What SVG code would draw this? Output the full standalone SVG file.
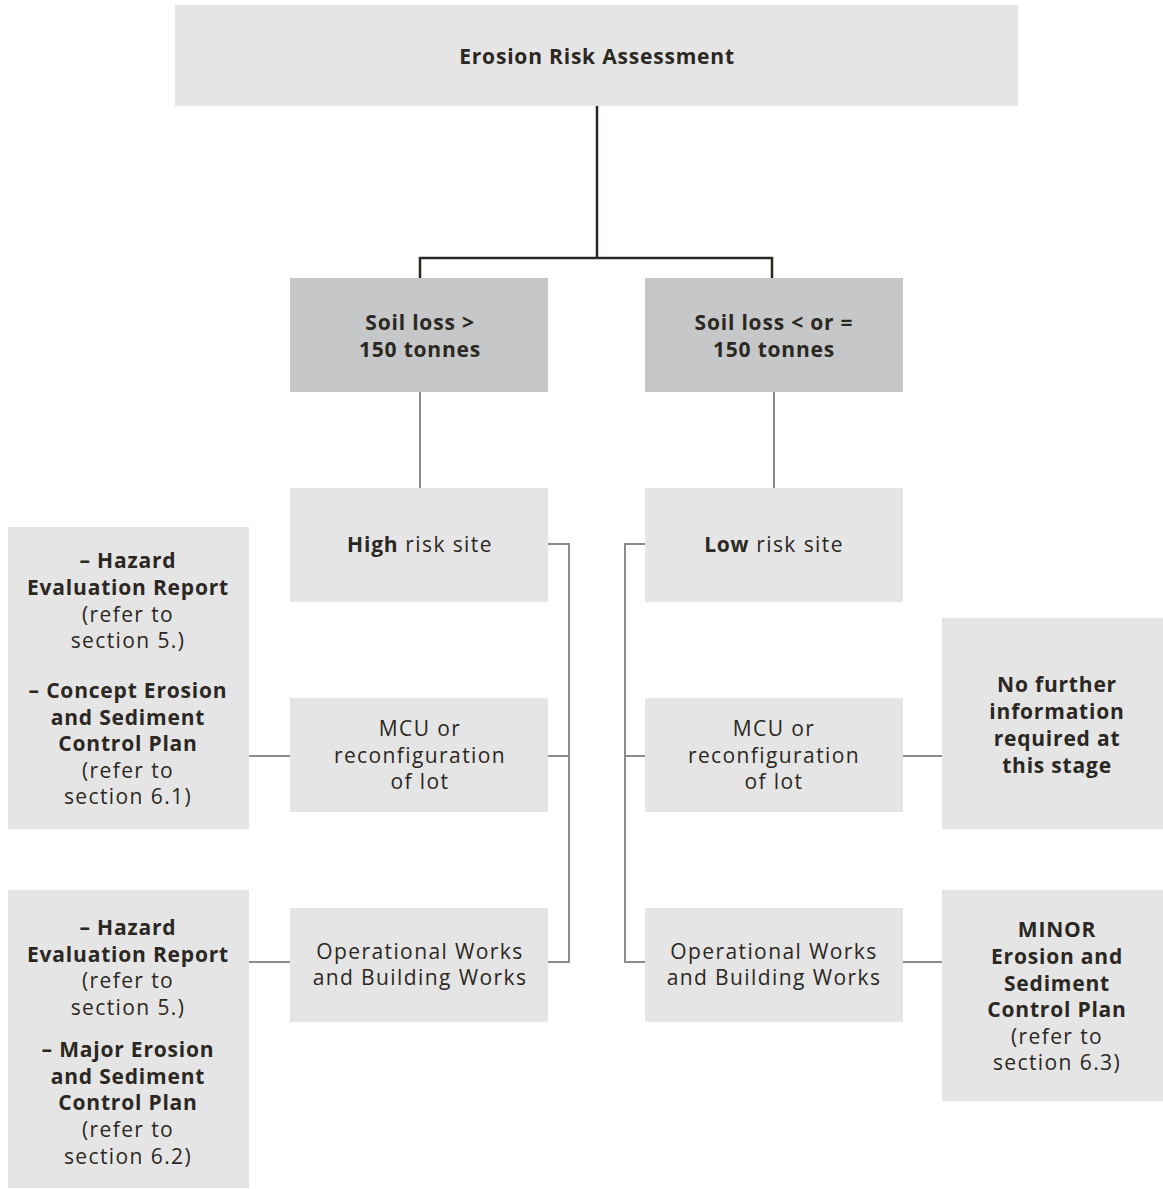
<svg xmlns="http://www.w3.org/2000/svg" width="1163" height="1189" viewBox="0 0 1163 1189">
<style>
.lt{fill:#e5e5e5}
.dk{fill:#c6c7c8}
text{font-family:"Open Sans","Noto Sans","Liberation Sans",sans-serif;font-size:21px;fill:#2b2722;text-anchor:middle;letter-spacing:1.4px}
.b{font-weight:bold;letter-spacing:0.8px}
.main{fill:none;stroke:#2b2722;stroke-width:2.5}
.sub{fill:none;stroke:#8c8c8c;stroke-width:2}
</style>
<rect width="1163" height="1189" fill="#ffffff"/>
<g id="connectors">
<path class="main" d="M597,106 V258 M420,280 V258 H772 V280"/>
<path class="sub" d="M420,392 V488 M774,392 V488"/>
<path class="sub" d="M548,544 H569 V962 H548 M548,756 H569"/>
<path class="sub" d="M645,544 H625 V962 H645 M625,756 H645"/>
<path class="sub" d="M249,756 H290 M249,962 H290 M903,756 H942 M903,962 H942"/>
</g>
<g id="n-top"><rect class="lt" x="175" y="5" width="843" height="101"/><text class="b" x="597" y="64">Erosion Risk Assessment</text></g>
<g id="n-soil-high"><rect class="dk" x="290" y="278" width="258" height="114"/><text class="b" x="420" y="330">Soil loss &gt;</text><text class="b" x="420" y="357">150 tonnes</text></g>
<g id="n-soil-low"><rect class="dk" x="645" y="278" width="258" height="114"/><text class="b" x="774" y="330">Soil loss &lt; or =</text><text class="b" x="774" y="357">150 tonnes</text></g>
<g id="n-high"><rect class="lt" x="290" y="488" width="258" height="114"/><text x="420" y="552"><tspan class="b">High</tspan> risk site</text></g>
<g id="n-low"><rect class="lt" x="645" y="488" width="258" height="114"/><text x="774" y="552"><tspan class="b">Low</tspan> risk site</text></g>
<g id="n-mcu-high"><rect class="lt" x="290" y="698" width="258" height="114"/><text x="420" y="736">MCU or</text><text x="420" y="763">reconfiguration</text><text x="420" y="789">of lot</text></g>
<g id="n-mcu-low"><rect class="lt" x="645" y="698" width="258" height="114"/><text x="774" y="736">MCU or</text><text x="774" y="763">reconfiguration</text><text x="774" y="789">of lot</text></g>
<g id="n-ow-high"><rect class="lt" x="290" y="908" width="258" height="114"/><text x="420" y="959">Operational Works</text><text x="420" y="985">and Building Works</text></g>
<g id="n-ow-low"><rect class="lt" x="645" y="908" width="258" height="114"/><text x="774" y="959">Operational Works</text><text x="774" y="985">and Building Works</text></g>
<g id="n-out-mcu-high"><rect class="lt" x="8" y="527" width="241" height="302"/>
<text class="b" x="128" y="568">– Hazard</text><text class="b" x="128" y="595">Evaluation Report</text><text x="128" y="622">(refer to</text><text x="128" y="648">section 5.)</text>
<text class="b" x="128" y="698">– Concept Erosion</text><text class="b" x="128" y="725">and Sediment</text><text class="b" x="128" y="751">Control Plan</text><text x="128" y="778">(refer to</text><text x="128" y="804">section 6.1)</text></g>
<g id="n-out-ow-high"><rect class="lt" x="8" y="890" width="241" height="298"/>
<text class="b" x="128" y="935">– Hazard</text><text class="b" x="128" y="962">Evaluation Report</text><text x="128" y="988">(refer to</text><text x="128" y="1015">section 5.)</text>
<text class="b" x="128" y="1057">– Major Erosion</text><text class="b" x="128" y="1084">and Sediment</text><text class="b" x="128" y="1110">Control Plan</text><text x="128" y="1137">(refer to</text><text x="128" y="1164">section 6.2)</text></g>
<g id="n-out-mcu-low"><rect class="lt" x="942" y="618" width="221" height="211"/>
<text class="b" x="1057" y="692">No further</text><text class="b" x="1057" y="719">information</text><text class="b" x="1057" y="746">required at</text><text class="b" x="1057" y="773">this stage</text></g>
<g id="n-out-ow-low"><rect class="lt" x="942" y="890" width="221" height="211"/>
<text class="b" x="1057" y="937">MINOR</text><text class="b" x="1057" y="964">Erosion and</text><text class="b" x="1057" y="991">Sediment</text><text class="b" x="1057" y="1017">Control Plan</text><text x="1057" y="1044">(refer to</text><text x="1057" y="1070">section 6.3)</text></g>
</svg>
